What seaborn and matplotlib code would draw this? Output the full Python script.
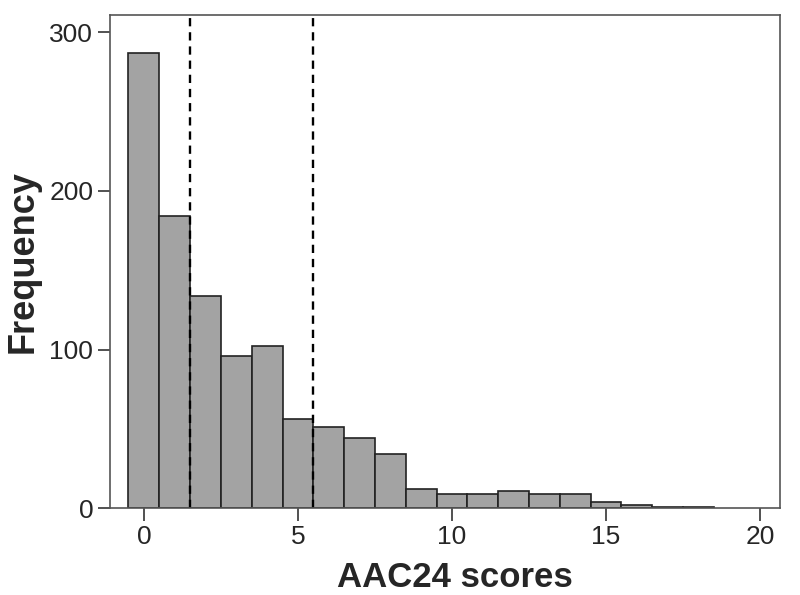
import matplotlib
matplotlib.use("Agg")
import matplotlib.pyplot as plt
import seaborn as sb

# AAC24 score (integer) and how many subjects had it
scores = list(range(19))
counts = [287, 184, 134, 96, 102, 56, 51, 44, 34, 12, 9, 9, 11, 9, 9, 4, 2, 1, 1]
cutoffs = [1.5, 5.5]
xticks = [0, 5, 10, 15, 20]
yticks = [0, 100, 200, 300]

sb.set_style("white")
plt.rcParams['font.family'] = ['Liberation Sans', 'DejaVu Sans']

fig = plt.figure(figsize=(8, 5.95), dpi=100)
ax = fig.add_axes([0.1375, 0.146, 0.8375, 0.829])

sb.histplot(x=scores, weights=counts, discrete=True, color='#a3a3a3',
            edgecolor='#222222', linewidth=1.2, alpha=1, ax=ax)

for c in cutoffs:
    ax.axvline(c, color='black', linestyle=(0, (3.5, 2.5)), linewidth=1.7)

ax.set_xlim(-1.1, 20.65)
ax.set_ylim(0, 311)
ax.set_xticks(xticks)
ax.set_yticks(yticks)
ax.tick_params(axis='both', labelsize=19, length=9, width=1.2, pad=3,
               direction='out', bottom=True, left=True, color='#333333')
ax.set_xlabel('AAC24 scores', fontsize=25, fontweight='bold')
ax.set_ylabel('Frequency', fontsize=26, fontweight='bold', labelpad=6)
ax.xaxis.set_label_coords(0.515, -0.108)

for s in ax.spines.values():
    s.set_color('#555555')
    s.set_linewidth(1.2)

plt.savefig('out.png', dpi=100)
